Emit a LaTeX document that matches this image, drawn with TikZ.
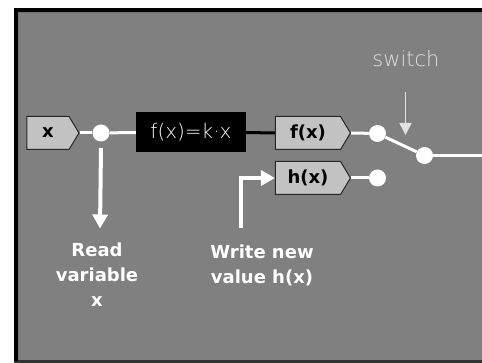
\documentclass[tikz,border=0pt]{standalone}
\usepackage{fontspec}
\setmainfont{DejaVu Sans}
\newfontfamily\thinfont{DejaVu Sans ExtraLight}
\usetikzlibrary{shapes.symbols,arrows.meta}
\definecolor{panel}{HTML}{808080}
\definecolor{tagfill}{HTML}{C2C2C2}
\definecolor{softwhite}{HTML}{E2E2E2}
\tikzset{
  tag/.style={shape=signal, signal to=east, signal pointer angle=118, draw=black!85, line width=1pt,
    fill=tagfill, font=\bfseries\fontsize{18}{18}\selectfont, inner sep=0pt, minimum height=33pt},
  dot/.style={circle, fill=white, draw=none, minimum size=17pt, inner sep=0pt},
  wire/.style={white, line width=3pt},
  pointer/.style={white, line width=4pt, -{Triangle[length=14pt,width=15pt]}},
  label/.style={white, font=\bfseries\fontsize{18}{25}\selectfont, align=center, inner sep=0pt}
}
\begin{document}
\begin{tikzpicture}[x=1pt,y=-1pt]
  \useasboundingbox (0,0) rectangle (482,363);
  % panel with its dark frame
  \fill[white] (0,0) rectangle (482,363);
  \fill[black!80] (14,8) rectangle (482,363);
  \fill[black] (14,8) rectangle (482,12);
  \fill[black] (14,8) rectangle (18,361);
  \fill[black!55] (18,12) rectangle (482,13);
  \fill[black!55] (18,12) rectangle (19,360);
  \fill[panel] (19,13) rectangle (482,360);

  % input tag, read junction, function block and output tags
  \node[tag, minimum width=52pt] (x) at (48,133) {x};
  \node[dot] (rd) at (101,133) {};
  \node[fill=black, minimum width=110pt, minimum height=40pt, inner sep=0pt,
        text=white, font=\thinfont\fontsize{20}{20}\selectfont] (fbox) at (191,132.5) {f(x)=k·x};
  \node[tag, minimum width=75pt] (fx) at (308,133) {f(x)};
  \node[tag, minimum width=75pt] (hx) at (308,178) {h(x)};
  \node[dot] (sf) at (377.5,133.5) {};
  \node[dot] (sh) at (377.5,178) {};
  \node[dot] (so) at (424.5,155.5) {};
  \coordinate (out) at (482,155.5);

  \draw[wire] (x.east) -- (rd);
  \draw[wire] (rd) -- (fbox.west);
  \draw[black, line width=3pt] (fbox.east) -- (fx.west);
  \draw[wire] (fx.east) -- (sf);
  \draw[wire] (hx.east) -- (sh);
  \draw[wire] (sf) -- (so);
  \draw[wire] (so) -- (out);

  % switch label and pointer
  \node[text=softwhite, font=\thinfont\fontsize{21}{21}\selectfont, anchor=base] (sw) at (406,66.5) {switch};
  \coordinate (swtop) at (405.5,92);
  \coordinate (swtip) at (405.5,135);
  \draw[softwhite, line width=1.6pt, -{Triangle[length=12pt,width=12pt]}] (swtop) -- (swtip);

  % read and write pointers with their labels
  \node[label] (rdlab) at (97,275) {Read\\variable\\x};
  \node[label] (wrlab) at (262,265) {Write new\\value h(x)};
  \coordinate (rdend) at (100,228.5);
  \coordinate (wrstart) at (240.5,228.5);
  \draw[pointer] ([yshift=-15pt]rd.center) -- (rdend);
  \draw[pointer] (wrstart) |- (hx.west);
\end{tikzpicture}
\end{document}
